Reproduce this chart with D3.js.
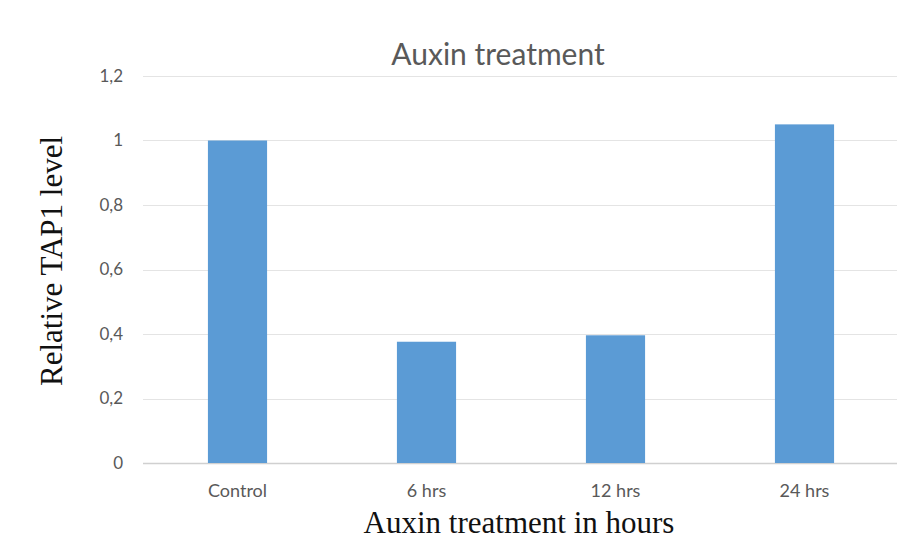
<!DOCTYPE html>
<html>
<head>
<meta charset="utf-8">
<script src="https://cdn.jsdelivr.net/npm/d3@7"></script>
<style>
  html, body { margin: 0; padding: 0; background: #fff; }
  svg { display: block; }
</style>
</head>
<body>
<svg id="chart" width="898" height="541"></svg>
<script>
// Relative TAP1 level after auxin treatment
const categories = ["Control", "6 hrs", "12 hrs", "24 hrs"];
const values = [1.0, 0.376, 0.396, 1.05];
const yTicks = [0, 0.2, 0.4, 0.6, 0.8, 1, 1.2];

const W = 898, H = 541;
const margin = { left: 143, right: 0, top: 76, bottom: 78 };
const svg = d3.select("#chart");

const x = d3.scaleBand()
  .domain(categories)
  .range([margin.left, W + 1])
  .paddingInner(0.687)
  .paddingOuter(0.3435);

const y = d3.scaleLinear()
  .domain([0, 1.2])
  .range([H - margin.bottom, margin.top]);

const fmt = d => d3.format("")(d).replace(".", ",");

// horizontal gridlines
svg.append("g")
  .selectAll("line")
  .data(yTicks)
  .join("line")
  .attr("x1", margin.left)
  .attr("x2", 897)
  .attr("y1", d => Math.round(y(d)) + 0.5)
  .attr("y2", d => Math.round(y(d)) + 0.5)
  .attr("stroke", d => d === 0 ? "#d0d0d0" : "#e4e4e4")
  .attr("stroke-width", d => d === 0 ? 1.5 : 1);

// y axis tick labels
const yAxis = d3.axisLeft(y).tickValues(yTicks).tickFormat(fmt).tickSize(0).tickPadding(0);
const gy = svg.append("g").attr("transform", `translate(123,0)`).call(yAxis);
gy.select(".domain").remove();
gy.selectAll("text")
  .attr("fill", "#595959")
  .style("font-family", "Lato, 'Open Sans', sans-serif")
  .style("font-size", "17px");

// bars
svg.append("g")
  .selectAll("rect")
  .data(values)
  .join("rect")
  .attr("x", (d, i) => x(categories[i]))
  .attr("width", x.bandwidth())
  .attr("y", d => y(d))
  .attr("height", d => y(0) - y(d))
  .attr("fill", "#5b9bd5");

// x axis tick labels
const xAxis = d3.axisBottom(x).tickSize(0).tickPadding(0);
const gx = svg.append("g").attr("transform", `translate(0,${H - margin.bottom + 21})`).call(xAxis);
gx.select(".domain").remove();
gx.selectAll("text")
  .attr("fill", "#595959")
  .attr("dy", "0.71em")
  .style("font-family", "Lato, 'Open Sans', sans-serif")
  .style("font-size", "18px");

// chart title
svg.append("text")
  .attr("x", 498)
  .attr("y", 65)
  .attr("text-anchor", "middle")
  .attr("fill", "#595959")
  .style("font-family", "Lato, 'Open Sans', sans-serif")
  .style("font-size", "30px")
  .text("Auxin treatment");

// axis titles
svg.append("text")
  .attr("x", 519)
  .attr("y", 533)
  .attr("text-anchor", "middle")
  .attr("fill", "#111")
  .style("font-family", "'Liberation Serif', 'Times New Roman', serif")
  .style("font-size", "31px")
  .text("Auxin treatment in hours");

svg.append("text")
  .attr("transform", "translate(62,261) rotate(-90)")
  .attr("text-anchor", "middle")
  .attr("fill", "#111")
  .style("font-family", "'Liberation Serif', 'Times New Roman', serif")
  .style("font-size", "31px")
  .text("Relative TAP1 level");
</script>
</body>
</html>
